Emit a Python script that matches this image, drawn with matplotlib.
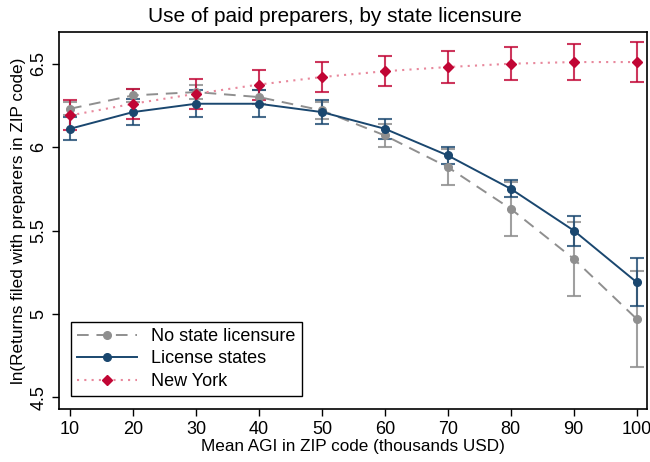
import matplotlib
matplotlib.use("Agg")
import matplotlib.pyplot as plt
import numpy as np

plt.rcParams['font.family'] = ['Liberation Sans', 'DejaVu Sans']

agi = [10, 20, 30, 40, 50, 60, 70, 80, 90, 100]
no_lic = [6.23, 6.31, 6.33, 6.30, 6.22, 6.07, 5.88, 5.63, 5.33, 4.97]
no_lic_err = [0.04, 0.04, 0.04, 0.04, 0.05, 0.07, 0.11, 0.16, 0.22, 0.29]
lic = [6.11, 6.21, 6.26, 6.26, 6.21, 6.11, 5.95, 5.75, 5.50, 5.19]
lic_err = [0.07, 0.08, 0.08, 0.08, 0.07, 0.06, 0.05, 0.05, 0.09, 0.145]
ny = [6.19, 6.26, 6.32, 6.375, 6.42, 6.455, 6.48, 6.50, 6.51, 6.51]
ny_err = [0.09, 0.09, 0.09, 0.09, 0.09, 0.09, 0.095, 0.10, 0.11, 0.12]

xticks = [10, 20, 30, 40, 50, 60, 70, 80, 90, 100]
yticks = [4.5, 5, 5.5, 6, 6.5]
ytick_labels = ['4.5', '5', '5.5', '6', '6.5']

gray = '#8f8f8f'
navy = '#1a476f'
red = '#c10534'

fig = plt.figure(figsize=(6.5, 4.62), dpi=100)
ax = fig.add_axes([0.0908, 0.1147, 0.9042, 0.816])

ax.errorbar(agi, no_lic, yerr=no_lic_err, fmt='none', ecolor=gray, alpha=0.85,
            elinewidth=1.5, capsize=5, capthick=1.5, zorder=2)
ax.errorbar(agi, lic, yerr=lic_err, fmt='none', ecolor=navy, alpha=0.8,
            elinewidth=1.5, capsize=5, capthick=1.5, zorder=2)
ax.errorbar(agi, ny, yerr=ny_err, fmt='none', ecolor=red, alpha=0.8,
            elinewidth=1.5, capsize=5, capthick=1.5, zorder=2)

ax.plot(agi, no_lic, color=gray, linestyle=(0, (6, 4)), linewidth=1.4,
        marker='o', markersize=5.5, label='No state licensure', zorder=3)
ax.plot(agi, lic, color=navy, linestyle='-', linewidth=1.4,
        marker='o', markersize=5.5, label='License states', zorder=4)
ax.plot(agi, ny, color='#e8889c', linestyle=(0, (1, 2.5)), linewidth=1.5,
        marker='D', markersize=5.5, markerfacecolor=red, markeredgecolor=red,
        label='New York', zorder=5)

ax.set_xlim(8.25, 101.6)
ax.set_ylim(4.43, 6.69)
ax.set_xticks(xticks)
ax.set_yticks(yticks)
ax.set_yticklabels(ytick_labels, rotation=90, va='center')
ax.tick_params(axis='both', direction='out', length=5, width=1, labelsize=13)
for s in ax.spines.values():
    s.set_linewidth(1.2)

fig.text(0.515, 0.965, 'Use of paid preparers, by state licensure', fontsize=15,
         ha='center', va='center')
ax.set_xlabel('Mean AGI in ZIP code (thousands USD)', fontsize=12.3, labelpad=1)
ax.set_ylabel('ln(Returns filed with preparers in ZIP code)', fontsize=12.3, labelpad=3)

leg = ax.legend(loc='lower left', fontsize=13, fancybox=False, edgecolor='black',
                framealpha=1, handlelength=3.3, borderpad=0.35, labelspacing=0.3,
                bbox_to_anchor=(0.005, 0.01))
leg.get_frame().set_linewidth(1.0)

fig.savefig('out.png', dpi=100)
